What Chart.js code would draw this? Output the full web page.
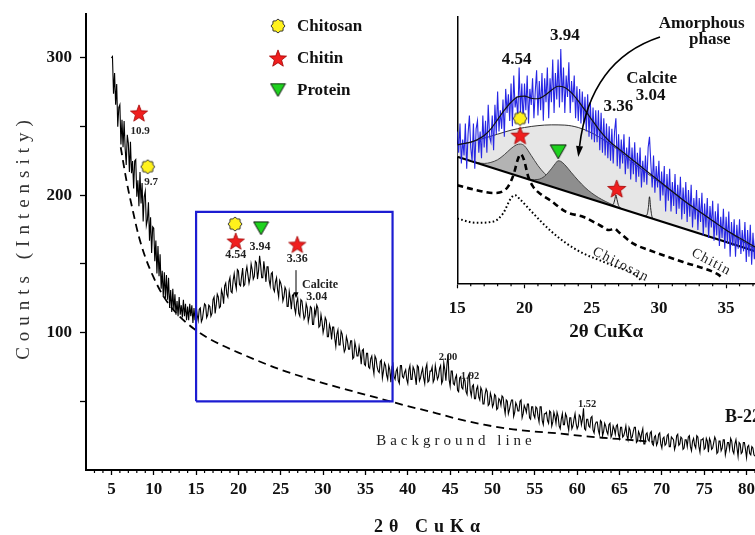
<!DOCTYPE html>
<html lang="en">
<head>
    <meta charset="UTF-8">
    <title>XRD pattern B-22</title>
    <script src="https://cdn.jsdelivr.net/npm/chart.js"></script>
    <style>
        body { margin: 0; background: #fff; }
        .stage { position: relative; width: 755px; height: 535px; overflow: hidden; }
        .stage canvas { position: absolute; top: 0; }
        #mainChart { left: 0; }
        #insetChart { left: 420px; }
    </style>
</head>
<body>
<div class="stage">
    <canvas id="mainChart" width="755" height="535"></canvas>
    <canvas id="insetChart" width="335" height="345"></canvas>
</div>
<script>
// ---- main pattern (counts read every 0.125 deg, starting at 5 deg) ----
const scanStart = 5;
const scanStep = 0.125;
const counts = [
    300,301,274,289,266,281,250,264,266,237,255,235,254,234,222,244,238,217,239,216,225,205,225,226,199,211,192,217,194,209,181,199,203,178,182,195,167,184,158,177,
    176,152,167,143,163,141,157,132,145,126,144,125,142,124,140,118,131,115,132,116,128,113,123,112,126,113,120,111,124,112,121,109,119,109,121,112,120,107,118,109,
    120,113,109,117,118,108,110,116,121,120,111,113,120,119,112,114,124,126,114,120,128,126,118,119,131,128,121,134,136,128,126,137,140,130,129,138,143,136,132,146,
    145,135,134,141,147,134,135,144,148,142,136,140,150,146,139,141,152,151,139,145,156,149,140,140,152,145,137,148,148,138,134,143,144,132,130,137,140,131,126,138,
    136,132,123,126,133,131,119,119,130,125,117,127,128,118,114,122,125,114,112,124,123,116,110,112,121,118,108,112,119,118,106,106,117,113,120,118,104,105,113,108,
    100,104,111,109,97,97,106,103,95,104,104,96,90,99,102,91,91,101,99,92,86,88,97,94,88,88,94,94,81,82,93,89,83,83,90,85,77,87,88,77,
    76,85,85,75,74,81,83,75,70,83,81,75,72,71,79,80,67,72,78,76,69,66,76,73,64,75,77,68,66,72,74,65,63,76,76,68,67,71,73,66,
    63,73,76,66,66,75,73,68,62,76,75,65,67,71,74,67,63,74,77,64,65,72,72,75,64,66,76,71,66,68,74,76,63,65,78,73,65,77,84,66,
    61,72,72,63,62,67,69,58,57,67,68,60,59,67,65,57,55,68,70,58,54,61,62,52,52,59,61,53,51,60,58,48,48,55,59,57,47,48,56,53,
    46,48,55,54,44,45,52,51,47,54,53,46,41,51,50,41,44,48,51,51,39,42,49,47,43,43,50,51,38,41,47,45,42,48,48,38,37,46,46,40,
    38,46,45,39,35,46,46,36,33,41,41,42,36,34,43,42,32,35,42,39,34,42,39,32,30,37,41,33,33,41,39,33,29,38,38,30,32,37,41,34,
    30,32,40,39,33,37,45,30,29,37,37,32,31,38,39,29,27,33,35,35,29,26,36,35,25,28,34,32,28,26,33,34,24,26,32,30,26,32,33,26,
    23,31,31,24,25,28,32,25,22,31,29,23,24,28,31,31,20,21,28,26,22,27,30,19,19,26,27,22,21,27,28,19,18,24,25,18,20,26,27,19,
    16,23,24,18,19,25,26,17,17,24,23,22,15,18,25,26,18,19,24,23,15,16,22,22,17,24,25,17,14,21,23,18,16,25,24,17,13,22,22,23,
    15,16,23,21,13,23,21,15,16,20,24,22,12,13,21,21,14,16,22,22,11,15,20,20,15,23,21,14,12,19,22,16,10,20,19,12,13,20,20,15,
    9,17,18,12,11,17,16,11,10
];

const bgTheta = [6.1, 6.8, 7.45, 8.2, 9, 10, 11, 12, 13.1, 14.7, 16.3, 18, 20, 22.5, 25, 28, 31, 34, 37, 40, 43, 46, 49, 52, 55, 58, 61, 64, 67, 69];
const bgCounts = [235, 210, 191, 171, 155, 140, 128, 119, 111.5, 103, 96.5, 91, 85.5, 79, 73, 67, 61.5, 56.5, 51.5, 46.5, 42, 37, 33, 30, 28, 26.5, 24.5, 23, 21.5, 20.5];

// zoomed region outline
const boxTheta = [15, 38.2, 38.2, 15, 15];
const boxCounts = [50, 50, 188, 188, 50];

const chitinTheta = [8.26, 19.68, 26.95];
const chitinCounts = [260, 166.7, 164.3];
const chitosanTheta = [9.29, 19.6];
const chitosanCounts = [220.8, 179.1];
const proteinTheta = [22.67];
const proteinCounts = [176];

const xTickValues = [5, 10, 15, 20, 25, 30, 35, 40, 45, 50, 55, 60, 65, 70, 75, 80];
const yTickValues = [50, 100, 150, 200, 250, 300];
const yLabelValues = [100, 200, 300];

// ---- inset 15-37 deg (relative counts, 0-100) ----
const zoomStart = 15;
const zoomStep = 0.1;
const zoomCounts = [
    57,49,60,45,54,48,60,43,56,63,
    51,46,60,43,58,61,49,57,47,63,
    51,61,49,67,55,53,63,50,67,56,
    72,57,65,58,69,55,73,64,71,61,
    75,59,78,66,70,62,81,64,75,60,
    75,65,78,60,73,67,77,62,72,80,
    63,76,65,79,61,77,68,81,62,77,
    68,84,64,79,69,84,66,88,68,81,
    64,78,70,83,64,76,68,78,62,74,
    61,73,60,72,60,70,57,71,55,68,
    54,66,53,65,53,65,50,64,49,62,
    48,60,47,59,46,58,45,57,62,44,
    56,43,54,45,56,41,51,43,55,39,
    51,41,53,38,49,40,51,36,46,38,
    48,37,51,55,45,36,48,34,44,36,
    46,31,42,33,44,27,41,31,43,27,
    38,29,41,26,37,28,40,24,36,26,
    38,23,35,25,37,21,32,24,35,20,
    32,23,34,18,30,21,32,17,29,21,
    31,16,27,18,30,14,25,17,28,13,
    25,15,27,10,23,14,24,10,22,13,
    24,11,20,12,23,8,20,10,22,7,
    19,9,18
];

const fitTheta = [15, 15.5, 16, 16.5, 17, 17.5, 18, 18.5, 19, 19.5, 20, 20.5, 21, 21.5, 22, 22.5, 23, 23.5, 24, 24.5, 25, 25.5, 26, 26.5, 27, 28, 29, 30, 31, 32, 33, 34, 35, 36, 37.2];
const fitCounts = [52, 52.5, 53, 54, 55.5, 58, 61.5, 65, 68, 70, 70.3, 69.5, 69.3, 70.5, 72.5, 74, 73.5, 71.5, 68.5, 65, 61.5, 58, 55, 52.5, 50.5, 46.5, 42.5, 38.5, 34.5, 30.5, 27, 23.5, 20, 17, 13.5];

const amorphTheta = [15, 16, 17, 18, 19, 20, 21, 22, 23, 24, 25, 26, 27, 28, 29, 30, 31, 32, 33, 34, 35, 36, 37.2];
const amorphCounts = [52, 53, 54.5, 56, 57.5, 58.5, 59.2, 59.5, 59.4, 58.5, 56.5, 53.5, 50, 45.5, 41.8, 38, 34.3, 30.5, 27, 23.5, 20, 16.5, 12.8];

const baseTheta = [15, 37.2];
const baseCounts = [47.5, 12.0];

const chitinPeakTheta = [16, 17, 17.5, 18, 18.5, 19, 19.4, 19.7, 20, 20.5, 21, 21.5, 22, 22.5, 23, 23.5, 24, 24.5];
const chitinPeakCounts = [45.9, 45.0, 45.4, 46.4, 48.3, 50.6, 52.0, 52.3, 51.6, 48.0, 44.2, 41.2, 39.0, 37.5, 36.1, 34.8, 33.6, 32.4];

const proteinPeakTheta = [20, 20.5, 21, 21.5, 22, 22.3, 22.5, 22.7, 23, 23.5, 24, 24.5, 25, 25.5, 26, 26.5, 27];
const proteinPeakCounts = [39.5, 38.9, 39.0, 40.2, 43.0, 45.0, 46.0, 45.8, 44.5, 41.5, 38.6, 36.0, 33.9, 32.2, 30.8, 29.6, 28.5];

const calciteATheta = [26.4, 26.6, 26.72, 26.8, 26.88, 27.0, 27.2];
const calciteACounts = [29.3, 29.6, 31.5, 33.2, 31.5, 29.2, 28.0];
const calciteBTheta = [28.9, 29.1, 29.22, 29.3, 29.38, 29.5, 29.7];
const calciteBCounts = [25.3, 25.6, 28.5, 32.5, 28.5, 24.8, 24.0];

const chitinRefTheta = [15, 16.4, 17.7, 18.4, 18.8, 19.2, 19.5, 19.72, 19.95, 20.28, 20.65, 21.2, 21.9, 23.1, 24.4, 25.6, 26.3, 26.7, 27.0, 28.1, 29.3, 31.8, 34.3, 34.8];
const chitinRefCounts = [36.8, 35.0, 33.9, 34.6, 36.5, 41.0, 46.5, 48.5, 46.5, 40.0, 36.2, 33.5, 31.2, 26.8, 24.9, 21.8, 20.0, 20.5, 19.3, 14.9, 12.4, 8.0, 3.6, 1.8];
const chitosanRefTheta = [15, 16.4, 17.7, 18.4, 19.0, 19.3, 19.67, 20.66, 21.9, 23.14, 24.38, 25.62, 26.86, 28.1, 28.7];
const chitosanRefCounts = [24.3, 22.7, 23.2, 26.2, 32.0, 33.1, 31.5, 26.2, 19.9, 14.9, 11.2, 8.6, 6.1, 3.6, 1.0];

const zChitinTheta = [19.67, 26.86];
const zChitinCounts = [55.6, 35.6];
const zChitosanTheta = [19.67];
const zChitosanCounts = [61.9];
const zProteinTheta = [22.51];
const zProteinCounts = [49.4];

const insetTickValues = [15, 20, 25, 30, 35];

// ---- look ----
const serif = "'Liberation Serif', 'Times New Roman', serif";
Chart.defaults.font.family = serif;
Chart.defaults.color = '#111';

const xy = (xs, ys) => xs.map((v, i) => ({ x: v, y: ys[i] }));

function starImage(size, fill, edge) {
    const c = document.createElement('canvas');
    c.width = c.height = size + 2;
    const g = c.getContext('2d');
    const m = c.width / 2, R = size / 2, r = R * 0.42;
    g.beginPath();
    for (let k = 0; k < 10; k++) {
        const a = -Math.PI / 2 + k * Math.PI / 5;
        const d = k % 2 ? r : R;
        g.lineTo(m + d * Math.cos(a), m + R * 0.1 + d * Math.sin(a));
    }
    g.closePath();
    g.fillStyle = fill;
    g.fill();
    g.lineWidth = 0.8;
    g.strokeStyle = edge;
    g.stroke();
    return c;
}

function sunImage(size) {
    const c = document.createElement('canvas');
    c.width = c.height = size + 2;
    const g = c.getContext('2d');
    const m = c.width / 2, R = size / 2, r = R * 0.8;
    g.beginPath();
    for (let k = 0; k < 16; k++) {
        const a = k * Math.PI / 8;
        const d = k % 2 ? r : R;
        g.lineTo(m + d * Math.cos(a), m + d * Math.sin(a));
    }
    g.closePath();
    g.fillStyle = '#fff21c';
    g.fill();
    g.lineWidth = 1;
    g.strokeStyle = '#333';
    g.stroke();
    return c;
}

function triangleImage(w, h) {
    const c = document.createElement('canvas');
    c.width = w + 2;
    c.height = h + 2;
    const g = c.getContext('2d');
    g.beginPath();
    g.moveTo(1, 1);
    g.lineTo(w + 1, 1);
    g.lineTo(w / 2 + 1, h + 1);
    g.closePath();
    g.fillStyle = '#1ed21e';
    g.fill();
    g.lineWidth = 1;
    g.strokeStyle = '#111';
    g.stroke();
    return c;
}

const starMain = starImage(18, '#f01e1e', '#a00000');
const sunMain = sunImage(14);
const triMain = triangleImage(15, 13);
const starInset = starImage(19, '#f01e1e', '#a00000');
const sunInset = sunImage(14);
const triInset = triangleImage(16, 14);

// annotations: text, 2theta, counts, font size
const mainNotes = [
    ['10.9', 8.38, 246.8, 11],
    ['9.7', 9.68, 209.7, 11],
    ['4.54', 19.68, 156.6, 12],
    ['3.94', 22.55, 162.1, 12],
    ['3.36', 26.95, 153.4, 12],
    ['Calcite', 29.64, 134.7, 12],
    ['3.04', 29.24, 125.7, 12],
    ['2.00', 44.75, 82.3, 10.5],
    ['1.92', 47.35, 68.4, 10.5],
    ['1.52', 61.17, 48.1, 10.5]
];

const insetNotes = [
    ['4.54', 19.42, 84.0],
    ['3.94', 23.01, 93.1],
    ['Calcite', 29.46, 76.9],
    ['3.04', 29.39, 70.6],
    ['3.36', 26.98, 66.5],
    ['Amorphous', 33.18, 97.7],
    ['phase', 33.79, 91.5]
];

const mainDecor = {
    id: 'mainDecor',
    afterDraw(chart) {
        const { ctx, chartArea: area, scales: { x, y } } = chart;
        ctx.save();
        // minor ticks on the 2theta axis
        ctx.strokeStyle = '#000';
        ctx.lineWidth = 1.2;
        for (let v = 3; v <= 81; v++) {
            if (v % 5 === 0) continue;
            const px = x.getPixelForValue(v);
            ctx.beginPath();
            ctx.moveTo(px, area.bottom);
            ctx.lineTo(px, area.bottom + 3);
            ctx.stroke();
        }

        // small calcite arrow
        const ax = x.getPixelForValue(26.8);
        const ay1 = y.getPixelForValue(145.5), ay2 = y.getPixelForValue(125.1);
        ctx.lineWidth = 1;
        ctx.beginPath();
        ctx.moveTo(ax, ay1);
        ctx.lineTo(ax, ay2 - 5);
        ctx.stroke();
        ctx.fillStyle = '#000';
        ctx.beginPath();
        ctx.moveTo(ax - 2.5, ay2 - 6);
        ctx.lineTo(ax + 2.5, ay2 - 6);
        ctx.lineTo(ax, ay2);
        ctx.closePath();
        ctx.fill();

        ctx.fillStyle = '#222';
        ctx.textAlign = 'center';
        ctx.textBaseline = 'middle';
        mainNotes.forEach(([t, tx, ty, size]) => {
            ctx.font = `bold ${size}px ${serif}`;
            ctx.fillText(t, x.getPixelForValue(tx), y.getPixelForValue(ty));
        });

        ctx.font = `bold 18px ${serif}`;
        ctx.textAlign = 'left';
        ctx.fillStyle = '#111';
        ctx.fillText('B-22', x.getPixelForValue(77.46), y.getPixelForValue(38.6));

        ctx.save();
        ctx.font = `15px ${serif}`;
        ctx.letterSpacing = '4px';
        ctx.textAlign = 'center';
        ctx.fillStyle = '#222';
        ctx.fillText('Background line', x.getPixelForValue(45.69), y.getPixelForValue(21.1));
        ctx.restore();

        // legend
        const legendItems = [[sunMain, 'Chitosan'], [starMain, 'Chitin'], [triMain, 'Protein']];
        ctx.font = `bold 17px ${serif}`;
        ctx.textAlign = 'left';
        ctx.fillStyle = '#111';
        legendItems.forEach(([img, label], i) => {
            const cy = 26 + i * 32;
            ctx.drawImage(img, 278 - img.width / 2, cy - img.height / 2);
            ctx.fillText(label, 297, cy + 1);
        });

        // axis titles (letter-spaced)
        ctx.save();
        ctx.font = `bold 18px ${serif}`;
        ctx.letterSpacing = '6px';
        ctx.textAlign = 'center';
        ctx.fillText('2θ CuKα', 430, 527);
        ctx.restore();

        ctx.save();
        ctx.translate(24, 237);
        ctx.rotate(-Math.PI / 2);
        ctx.font = `19px ${serif}`;
        ctx.letterSpacing = '6px';
        ctx.textAlign = 'center';
        ctx.fillStyle = '#333';
        ctx.fillText('Counts (Intensity)', 0, 0);
        ctx.restore();

        ctx.restore();
    }
};

new Chart(document.getElementById('mainChart'), {
    type: 'scatter',
    data: {
        datasets: [
            { data: xy(chitinTheta, chitinCounts), pointStyle: starMain, pointRadius: 8, showLine: false },
            { data: xy(chitosanTheta, chitosanCounts), pointStyle: sunMain, pointRadius: 7, showLine: false },
            { data: xy(proteinTheta, proteinCounts), pointStyle: triMain, pointRadius: 7, showLine: false },
            { data: xy(boxTheta, boxCounts), showLine: true, borderColor: '#1c1cd2', borderWidth: 2.2, pointRadius: 0, borderJoinStyle: 'miter' },
            { data: counts.map((c, i) => ({ x: scanStart + i * scanStep, y: c })), showLine: true, borderColor: '#000', borderWidth: 1.1, pointRadius: 0 },
            { data: xy(bgTheta, bgCounts), showLine: true, borderColor: '#000', borderWidth: 1.8, borderDash: [8, 5], pointRadius: 0, cubicInterpolationMode: 'monotone' }
        ]
    },
    options: {
        responsive: false,
        animation: false,
        devicePixelRatio: 1,
        layout: { autoPadding: false, padding: { top: 14, right: 0, left: 0, bottom: 0 } },
        plugins: { legend: { display: false }, tooltip: { enabled: false } },
        scales: {
            x: {
                type: 'linear', min: 2, max: 81,
                afterBuildTicks(s) { s.ticks = xTickValues.map(v => ({ value: v })); },
                afterFit(s) { s.height = 65; s.paddingLeft = 0; s.paddingRight = 0; },
                grid: { drawOnChartArea: false, tickLength: 5, tickColor: '#000', tickWidth: 1.3 },
                border: { color: '#000', width: 2 },
                ticks: { font: { size: 17, weight: 'bold' }, color: '#111', padding: 4, maxRotation: 0, autoSkip: false }
            },
            y: {
                min: 0, max: 332,
                afterBuildTicks(s) { s.ticks = yTickValues.map(v => ({ value: v })); },
                afterFit(s) { s.width = 86; s.paddingTop = 0; s.paddingBottom = 0; },
                grid: { drawOnChartArea: false, tickLength: 6, tickColor: '#000', tickWidth: 1.3 },
                border: { color: '#000', width: 2 },
                ticks: {
                    font: { size: 17, weight: 'bold' }, color: '#111', padding: 8,
                    callback: v => yLabelValues.includes(v) ? String(v) : ''
                }
            }
        }
    },
    plugins: [mainDecor]
});

const insetDecor = {
    id: 'insetDecor',
    beforeDraw(chart) {
        const ctx = chart.ctx;
        ctx.save();
        ctx.fillStyle = '#fff';
        ctx.fillRect(0, 0, chart.width, chart.height);
        ctx.restore();
    },
    afterDraw(chart) {
        const { ctx, chartArea: area, scales: { x, y } } = chart;
        const p = (a, b) => ({ x: x.getPixelForValue(a), y: y.getPixelForValue(b) });
        ctx.save();
        ctx.strokeStyle = '#000';
        ctx.lineWidth = 1.2;
        for (let v = 16; v <= 37; v++) {
            if (v % 5 === 0) continue;
            const px = x.getPixelForValue(v);
            ctx.beginPath();
            ctx.moveTo(px, area.bottom);
            ctx.lineTo(px, area.bottom + 3);
            ctx.stroke();
        }

        ctx.fillStyle = '#111';
        ctx.textAlign = 'center';
        ctx.textBaseline = 'middle';
        ctx.font = `bold 17px ${serif}`;
        insetNotes.forEach(([t, a, b]) => {
            const q = p(a, b);
            ctx.fillText(t, q.x, q.y);
        });

        // curved arrow to the amorphous hump
        const s = p(30.08, 92.5), c = p(24.87, 83.85), e = p(24.0, 47.4);
        const ang = Math.atan2(e.y - c.y, e.x - c.x);
        const bx = e.x - 11 * Math.cos(ang), by = e.y - 11 * Math.sin(ang);
        ctx.lineWidth = 1.6;
        ctx.beginPath();
        ctx.moveTo(s.x, s.y);
        ctx.quadraticCurveTo(c.x, c.y, bx, by);
        ctx.stroke();
        ctx.fillStyle = '#000';
        ctx.beginPath();
        ctx.moveTo(e.x, e.y);
        ctx.lineTo(bx + 3.5 * Math.sin(ang), by - 3.5 * Math.cos(ang));
        ctx.lineTo(bx - 3.5 * Math.sin(ang), by + 3.5 * Math.cos(ang));
        ctx.closePath();
        ctx.fill();

        // rotated curve labels
        const tilted = [['Chitosan', 27.18, 7.0, 27, '1.5px'], ['Chitin', 33.9, 8.0, 28, '1.3px']];
        tilted.forEach(([t, a, b, deg, sp]) => {
            const q = p(a, b);
            ctx.save();
            ctx.translate(q.x, q.y);
            ctx.rotate(deg * Math.PI / 180);
            ctx.font = `14px ${serif}`;
            ctx.letterSpacing = sp;
            ctx.fillStyle = '#222';
            ctx.fillText(t, 0, 0);
            ctx.restore();
        });
        ctx.restore();
    }
};

new Chart(document.getElementById('insetChart'), {
    type: 'scatter',
    data: {
        datasets: [
            { data: xy(zChitosanTheta, zChitosanCounts), pointStyle: sunInset, pointRadius: 7, showLine: false },
            { data: xy(zChitinTheta, zChitinCounts), pointStyle: starInset, pointRadius: 8, showLine: false },
            { data: xy(zProteinTheta, zProteinCounts), pointStyle: triInset, pointRadius: 7, showLine: false },
            { data: xy(fitTheta, fitCounts), showLine: true, borderColor: '#111', borderWidth: 1.2, pointRadius: 0, cubicInterpolationMode: 'monotone' },
            { data: zoomCounts.map((c, i) => ({ x: zoomStart + i * zoomStep, y: c })), showLine: true, borderColor: '#2626e4', borderWidth: 1.1, pointRadius: 0 },
            { data: xy(baseTheta, baseCounts), showLine: true, borderColor: '#000', borderWidth: 2.2, pointRadius: 0 },
            { data: xy(chitinRefTheta, chitinRefCounts), showLine: true, borderColor: '#000', borderWidth: 2.6, borderDash: [6, 4], pointRadius: 0, cubicInterpolationMode: 'monotone' },
            { data: xy(chitosanRefTheta, chitosanRefCounts), showLine: true, borderColor: '#000', borderWidth: 2, borderDash: [1.6, 2.4], pointRadius: 0, cubicInterpolationMode: 'monotone' },
            { data: xy(calciteATheta, calciteACounts), showLine: true, borderColor: '#222', borderWidth: 1, pointRadius: 0, cubicInterpolationMode: 'monotone' },
            { data: xy(calciteBTheta, calciteBCounts), showLine: true, borderColor: '#222', borderWidth: 1, pointRadius: 0, cubicInterpolationMode: 'monotone' },
            { data: xy(proteinPeakTheta, proteinPeakCounts), showLine: true, borderColor: '#444', borderWidth: 1, backgroundColor: '#8e8e8e', fill: 5, pointRadius: 0, cubicInterpolationMode: 'monotone' },
            { data: xy(chitinPeakTheta, chitinPeakCounts), showLine: true, borderColor: '#444', borderWidth: 1, backgroundColor: '#b3b3b3', fill: 5, pointRadius: 0, cubicInterpolationMode: 'monotone' },
            { data: xy(amorphTheta, amorphCounts), showLine: true, borderColor: '#333', borderWidth: 1, backgroundColor: '#e6e6e6', fill: 5, pointRadius: 0, cubicInterpolationMode: 'monotone' }
        ]
    },
    options: {
        responsive: false,
        animation: false,
        devicePixelRatio: 1,
        layout: { autoPadding: false, padding: { top: 17, right: 0, left: 0, bottom: 0 } },
        plugins: { legend: { display: false }, tooltip: { enabled: false } },
        scales: {
            x: {
                type: 'linear', min: 15, max: 37.15,
                afterBuildTicks(s) { s.ticks = insetTickValues.map(v => ({ value: v })); },
                afterFit(s) { s.height = 61.7; s.paddingLeft = 0; s.paddingRight = 0; },
                grid: { drawOnChartArea: false, tickLength: 5, tickColor: '#000', tickWidth: 1.2 },
                border: { color: '#000', width: 1.5 },
                ticks: { font: { size: 17, weight: 'bold' }, color: '#111', padding: 10, maxRotation: 0, autoSkip: false },
                title: { display: true, text: '2θ CuKα', font: { size: 19, weight: 'bold' }, color: '#111', padding: { top: 0, bottom: 1.6 } }
            },
            y: {
                min: 0, max: 100,
                afterFit(s) { s.width = 37.3; s.paddingTop = 0; s.paddingBottom = 0; },
                ticks: { display: false },
                grid: { display: false },
                border: { color: '#000', width: 1.5 }
            }
        }
    },
    plugins: [insetDecor]
});
</script>
</body>
</html>
